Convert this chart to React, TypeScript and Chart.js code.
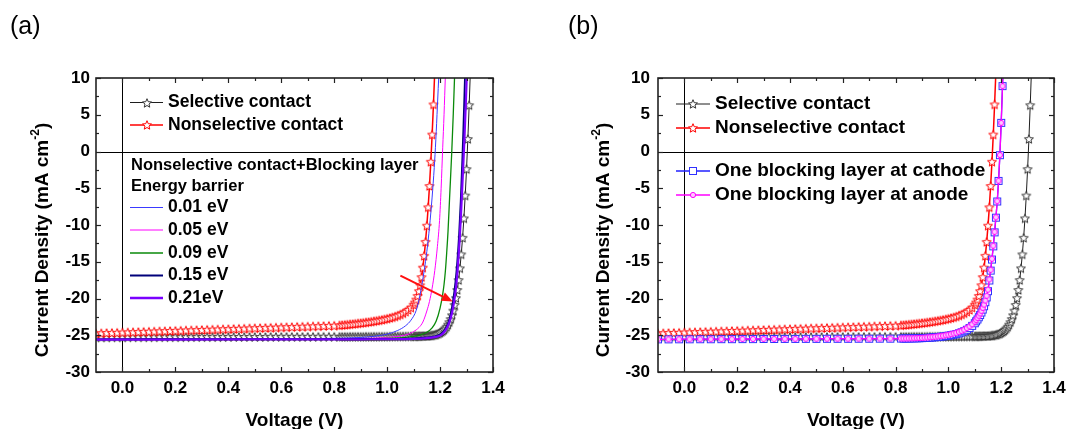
import { useEffect, useRef } from "react";
import { Chart, registerables } from "chart.js";

Chart.register(...registerables);

const FONT = "Arial, 'Liberation Sans', Helvetica, sans-serif";

// ---- axis ticks ----
const X_MAJOR = [0, 0.2, 0.4, 0.6, 0.8, 1.0, 1.2, 1.4];
const X_MINOR = [0.1, 0.3, 0.5, 0.7, 0.9, 1.1, 1.3];
const Y_MAJOR = [-30, -25, -20, -15, -10, -5, 0, 5, 10];
const Y_MINOR = [-27.5, -22.5, -17.5, -12.5, -7.5, -2.5, 2.5, 7.5];

// ---- voltage sweeps (V) ----
const V_COARSE = [
  -0.1, -0.08, -0.06, -0.04, -0.02, 0, 0.02, 0.04, 0.06, 0.08,
  0.1, 0.12, 0.14, 0.16, 0.18, 0.2, 0.22, 0.24, 0.26, 0.28,
  0.3, 0.32, 0.34, 0.36, 0.38, 0.4, 0.42, 0.44, 0.46, 0.48,
  0.5, 0.52, 0.54, 0.56, 0.58, 0.6, 0.62, 0.64, 0.66, 0.68,
  0.7, 0.72, 0.74, 0.76, 0.78, 0.8,
];
const V_SPARSE = [
  -0.1, -0.06, -0.02, 0.02, 0.06, 0.1, 0.14, 0.18, 0.22, 0.26, 0.3, 0.34,
  0.38, 0.42, 0.46, 0.5, 0.54, 0.58, 0.62, 0.66, 0.7, 0.74, 0.78,
];
const V_FINE = [
  0.82, 0.83, 0.84, 0.85, 0.86, 0.87, 0.88, 0.89, 0.9, 0.91,
  0.92, 0.93, 0.94, 0.95, 0.96, 0.97, 0.98, 0.99, 1.0, 1.01,
  1.02, 1.03, 1.04, 1.05, 1.06, 1.07, 1.08, 1.09, 1.1,
  1.105, 1.11, 1.115, 1.12, 1.125, 1.13, 1.135, 1.14, 1.145, 1.15,
  1.155, 1.16, 1.165, 1.17, 1.175, 1.18, 1.185, 1.19, 1.195, 1.2,
  1.205, 1.21, 1.215, 1.22, 1.225, 1.23, 1.235, 1.24, 1.245, 1.25,
  1.255, 1.26, 1.265, 1.27, 1.275, 1.28, 1.285, 1.29, 1.295, 1.3,
  1.305, 1.31, 1.315, 1.32,
];

// ---- current density (mA cm^-2) ----
const SELECTIVE_COARSE = [
  -25.28, -25.28, -25.28, -25.27, -25.27, -25.27, -25.27, -25.26, -25.26, -25.26,
  -25.26, -25.26, -25.25, -25.25, -25.25, -25.25, -25.25, -25.25, -25.24, -25.24,
  -25.24, -25.24, -25.24, -25.24, -25.24, -25.23, -25.23, -25.23, -25.23, -25.23,
  -25.23, -25.23, -25.23, -25.22, -25.22, -25.22, -25.22, -25.22, -25.22, -25.22,
  -25.22, -25.22, -25.21, -25.21, -25.21, -25.21,
];
const SELECTIVE_FINE = [
  -25.21, -25.21, -25.21, -25.21, -25.2, -25.2, -25.2, -25.2, -25.2, -25.2,
  -25.19, -25.19, -25.19, -25.19, -25.19, -25.18, -25.18, -25.18, -25.18, -25.17,
  -25.17, -25.17, -25.16, -25.16, -25.16, -25.15, -25.15, -25.14, -25.14,
  -25.14, -25.13, -25.13, -25.12, -25.12, -25.11, -25.11, -25.1, -25.1, -25.1,
  -25.08, -25.06, -25.04, -25.01, -24.98, -24.94, -24.89, -24.83, -24.75, -24.66,
  -24.55, -24.42, -24.26, -24.07, -23.84, -23.56, -23.22, -22.8, -22.28, -21.65,
  -20.88, -19.95, -18.84, -17.5, -15.9, -14.0, -11.75, -9.1, -6.0, -2.4,
  1.7, 6.3, 11.4,
];
const NONSELECTIVE_COARSE = [
  -24.75, -24.73, -24.7, -24.68, -24.66, -24.63, -24.61, -24.59, -24.56, -24.54,
  -24.52, -24.49, -24.47, -24.45, -24.42, -24.4, -24.38, -24.35, -24.33, -24.31,
  -24.28, -24.26, -24.24, -24.21, -24.19, -24.17, -24.14, -24.12, -24.1, -24.07,
  -24.05, -24.03, -24.0, -23.98, -23.96, -23.93, -23.91, -23.89, -23.86, -23.84,
  -23.82, -23.79, -23.77, -23.75, -23.72, -23.7,
];
const NONSELECTIVE_FINE = [
  -23.65, -23.62, -23.58, -23.55, -23.51, -23.47, -23.43, -23.39, -23.35, -23.3,
  -23.25, -23.2, -23.15, -23.09, -23.03, -22.97, -22.9, -22.83, -22.75, -22.66,
  -22.56, -22.45, -22.32, -22.18, -22.01, -21.8, -21.55, -21.25, -20.85,
  -20.55, -20.15, -19.65, -19.0, -18.2, -17.1, -15.8, -14.2, -12.3, -10.1,
  -7.6, -4.7, -1.4, 2.3, 6.4, 11.0,
];
const CATHODE_COARSE = [
  -25.56, -25.56, -25.55, -25.55, -25.54, -25.54, -25.53, -25.53, -25.52, -25.52,
  -25.51, -25.51, -25.5, -25.5, -25.49, -25.49, -25.48, -25.48, -25.48, -25.47,
  -25.47, -25.46, -25.46,
];
const CATHODE_FINE = [
  -25.45, -25.45, -25.44, -25.44, -25.43, -25.42, -25.41, -25.4, -25.39, -25.37,
  -25.35, -25.33, -25.3, -25.27, -25.24, -25.2, -25.16, -25.11, -25.05, -24.99,
  -24.92, -24.84, -24.73, -24.6, -24.44, -24.25, -24.02, -23.72, -23.36,
  -23.1, -22.85, -22.55, -22.25, -21.9, -21.5, -21.05, -20.5, -19.85, -19.0,
  -17.55, -16.2, -14.7, -12.9, -11.0, -9.0, -6.8, -4.0, -0.5, 3.9,
  8.9, 14.0,
];
const ANODE_COARSE = [
  -25.55, -25.55, -25.54, -25.54, -25.53, -25.53, -25.52, -25.52, -25.51, -25.51,
  -25.5, -25.5, -25.49, -25.49, -25.48, -25.48, -25.47, -25.47, -25.47, -25.46,
  -25.46, -25.45, -25.45,
];
const ANODE_FINE = [
  -25.44, -25.44, -25.43, -25.42, -25.41, -25.4, -25.39, -25.37, -25.35, -25.33,
  -25.3, -25.27, -25.24, -25.2, -25.16, -25.11, -25.06, -25.0, -24.93, -24.85,
  -24.76, -24.66, -24.54, -24.4, -24.23, -24.03, -23.79, -23.5, -23.15,
  -22.9, -22.64, -22.34, -22.03, -21.68, -21.28, -20.83, -20.28, -19.63, -18.8,
  -17.4, -16.1, -14.6, -12.82, -10.94, -8.95, -6.76, -3.98, -0.48, 3.9,
  8.9, 14.0,
];

// energy barrier runs, [V, J]
const BARRIER_001 = [
  [-0.1, -25.55], [0.2, -25.54], [0.5, -25.5], [0.8, -25.42], [0.9, -25.3],
  [0.95, -25.15], [1.0, -24.85], [1.04, -24.35], [1.07, -23.7], [1.09, -22.95],
  [1.11, -21.6], [1.125, -19.4], [1.14, -16.2], [1.15, -13.6], [1.16, -10.3],
  [1.17, -6.2], [1.178, -2.2], [1.184, 1.6], [1.19, 6.2], [1.196, 11.0],
];
const BARRIER_005 = [
  [-0.1, -25.55], [0.5, -25.52], [0.9, -25.45], [1.0, -25.3], [1.05, -25.1],
  [1.08, -24.85], [1.1, -24.5], [1.12, -23.95], [1.135, -23.2], [1.15, -21.7],
  [1.16, -20.4], [1.17, -18.6], [1.18, -16.2], [1.19, -12.9], [1.198, -9.4],
  [1.204, -5.0], [1.21, 0.5], [1.215, 5.0], [1.22, 10.2], [1.225, 15.0],
];
const BARRIER_009 = [
  [-0.1, -25.55], [0.5, -25.52], [0.9, -25.48], [1.05, -25.35], [1.1, -25.15],
  [1.13, -24.9], [1.15, -24.6], [1.17, -24.0], [1.185, -23.1], [1.2, -21.3],
  [1.21, -19.4], [1.215, -18.1], [1.22, -16.3], [1.225, -13.8], [1.23, -10.9],
  [1.236, -6.3], [1.244, -0.2], [1.25, 5.2], [1.255, 10.4], [1.26, 15.0],
];
const BARRIER_015 = [
  [-0.1, -25.55], [0.5, -25.52], [0.9, -25.5], [1.1, -25.42], [1.15, -25.3],
  [1.18, -25.15], [1.2, -24.9], [1.215, -24.4], [1.23, -23.4], [1.24, -22.2],
  [1.25, -20.1], [1.258, -17.8], [1.265, -15.0], [1.272, -11.2], [1.278, -6.8],
  [1.284, -1.2], [1.288, 3.0], [1.292, 7.6], [1.296, 12.5],
];
const BARRIER_021 = [
  [-0.1, -25.6], [0.5, -25.57], [0.9, -25.55], [1.1, -25.5], [1.15, -25.4],
  [1.18, -25.25], [1.2, -25.05], [1.215, -24.6], [1.23, -23.7], [1.24, -22.7],
  [1.25, -21.1], [1.26, -18.6], [1.267, -15.8], [1.274, -12.0], [1.28, -7.9],
  [1.286, -3.2], [1.292, 1.6], [1.297, 6.3], [1.301, 10.2], [1.305, 14.0],
];

// arrow in panel (a), data coordinates [V, J]
const ARROW_FROM = [1.05, -16.9];
const ARROW_TO = [1.248, -20.4];

// ---- colours ----
const BLACK = "#1e1e1e";
const RED = "#ff0000";
const BLUE = "#3a3aff";
const MAGENTA = "#ff00ff";
const GREEN = "#0a8a0a";
const NAVY = "#00007a";
const PURPLE = "#7a00ff";
const CATHODE = "#2020ff";

function toPoints(v: number[], j: number[]) {
  const n = Math.min(v.length, j.length);
  const out: { x: number; y: number }[] = [];
  for (let i = 0; i < n; i++) out.push({ x: v[i], y: j[i] });
  return out;
}
function sweep(vc: number[], jc: number[], vf: number[], jf: number[]) {
  return [...toPoints(vc, jc), ...toPoints(vf, jf)];
}
function pairs(p: number[][]) {
  return p.map(([x, y]) => ({ x, y }));
}

// ---- marker images ----
function makeStar(stroke: string, fill: string) {
  const size = 12;
  const c = document.createElement("canvas");
  c.width = size;
  c.height = size;
  const g = c.getContext("2d")!;
  const cx = size / 2, cy = size / 2 + 0.4, ro = 4.7, ri = 2.1;
  g.beginPath();
  for (let i = 0; i < 10; i++) {
    const ang = -Math.PI / 2 + (i * Math.PI) / 5;
    const r = i % 2 ? ri : ro;
    const px = cx + r * Math.cos(ang), py = cy + r * Math.sin(ang);
    if (i) g.lineTo(px, py);
    else g.moveTo(px, py);
  }
  g.closePath();
  g.fillStyle = fill;
  g.fill();
  g.lineWidth = 1;
  g.strokeStyle = stroke;
  g.stroke();
  return c;
}
function makeSquare(stroke: string, fill: string) {
  const c = document.createElement("canvas");
  c.width = 10;
  c.height = 10;
  const g = c.getContext("2d")!;
  g.fillStyle = fill;
  g.fillRect(1.5, 1.5, 7, 7);
  g.lineWidth = 1;
  g.strokeStyle = stroke;
  g.strokeRect(1.5, 1.5, 7, 7);
  return c;
}
function makeCircle(stroke: string, fill: string) {
  const c = document.createElement("canvas");
  c.width = 8;
  c.height = 8;
  const g = c.getContext("2d")!;
  g.beginPath();
  g.arc(4, 4, 2.6, 0, Math.PI * 2);
  g.fillStyle = fill;
  g.fill();
  g.lineWidth = 1;
  g.strokeStyle = stroke;
  g.stroke();
  return c;
}

function seg(ctx: CanvasRenderingContext2D, x1: number, y1: number, x2: number, y2: number) {
  ctx.beginPath();
  ctx.moveTo(x1, y1);
  ctx.lineTo(x2, y2);
  ctx.stroke();
}

function drawYTitle(ctx: CanvasRenderingContext2D, cx: number, cy: number) {
  ctx.save();
  ctx.translate(cx, cy);
  ctx.rotate(-Math.PI / 2);
  ctx.fillStyle = "#000";
  ctx.textBaseline = "middle";
  ctx.textAlign = "left";
  const big = `bold 19px ${FONT}`;
  const small = `bold 12px ${FONT}`;
  const a = "Current Density (mA cm", b = "-2", c = ")";
  ctx.font = big;
  const wa = ctx.measureText(a).width, wc = ctx.measureText(c).width;
  ctx.font = small;
  const wb = ctx.measureText(b).width;
  let x = -(wa + wb + wc) / 2;
  ctx.font = big;
  ctx.fillText(a, x, 0);
  x += wa;
  ctx.font = small;
  ctx.fillText(b, x, -7);
  x += wb;
  ctx.font = big;
  ctx.fillText(c, x, 0);
  ctx.restore();
}

function decorPlugin(d: any) {
  return {
    id: "decor",
    beforeDatasetsDraw(chart: any) {
      const { ctx, chartArea: a, scales } = chart;
      const x0 = Math.round(scales.x.getPixelForValue(0)) + 0.5;
      const y0 = Math.round(scales.y.getPixelForValue(0)) + 0.5;
      ctx.save();
      ctx.strokeStyle = "#000";
      ctx.lineWidth = 1;
      seg(ctx, x0, a.top, x0, a.bottom);
      seg(ctx, a.left, y0, a.right, y0);
      ctx.restore();
    },
    afterDatasetsDraw(chart: any) {
      const { ctx, chartArea: a, scales } = chart;
      const sx = scales.x, sy = scales.y;
      ctx.save();
      ctx.strokeStyle = "#222";
      ctx.lineWidth = 1.2;
      const xt = (v: number, len: number) => {
        const p = Math.round(sx.getPixelForValue(v)) + 0.5;
        seg(ctx, p, a.bottom, p, a.bottom - len);
        seg(ctx, p, a.top, p, a.top + len);
      };
      const yt = (v: number, len: number) => {
        const p = Math.round(sy.getPixelForValue(v)) + 0.5;
        seg(ctx, a.left, p, a.left + len, p);
        seg(ctx, a.right, p, a.right - len, p);
      };
      X_MAJOR.forEach((v) => xt(v, 5));
      X_MINOR.forEach((v) => xt(v, 3));
      Y_MAJOR.forEach((v) => yt(v, 5));
      Y_MINOR.forEach((v) => yt(v, 3));
      ctx.lineWidth = 1.6;
      ctx.strokeRect(a.left, a.top, a.right - a.left, a.bottom - a.top);

      if (d.arrow) {
        const fx = sx.getPixelForValue(ARROW_FROM[0]), fy = sy.getPixelForValue(ARROW_FROM[1]);
        const tx = sx.getPixelForValue(ARROW_TO[0]), ty = sy.getPixelForValue(ARROW_TO[1]);
        const ang = Math.atan2(ty - fy, tx - fx);
        const hl = 11, hw = 4.5;
        const bx = tx - hl * Math.cos(ang), by = ty - hl * Math.sin(ang);
        ctx.strokeStyle = "#ff1010";
        ctx.fillStyle = "#ff1010";
        ctx.lineWidth = 2;
        seg(ctx, fx, fy, bx, by);
        ctx.beginPath();
        ctx.moveTo(tx, ty);
        ctx.lineTo(bx + hw * Math.sin(ang), by - hw * Math.cos(ang));
        ctx.lineTo(bx - hw * Math.sin(ang), by + hw * Math.cos(ang));
        ctx.closePath();
        ctx.fill();
      }
      ctx.restore();
    },
    afterDraw(chart: any) {
      const { ctx, chartArea: a } = chart;
      ctx.save();
      ctx.fillStyle = "#000";
      // panel tag
      ctx.font = `25px ${FONT}`;
      ctx.textAlign = "left";
      ctx.textBaseline = "middle";
      ctx.fillText(d.tag, d.tagX, 27);
      // axis titles
      drawYTitle(ctx, d.yTitleX, 240);
      ctx.font = `bold 19px ${FONT}`;
      ctx.textAlign = "center";
      ctx.textBaseline = "middle";
      ctx.fillText("Voltage (V)", (a.left + a.right) / 2, 421);
      // legend
      const L = d.legend;
      ctx.textAlign = "left";
      for (const row of L.rows) {
        if (row.note) {
          ctx.font = `bold ${L.noteSize}px ${FONT}`;
          ctx.fillStyle = "#000";
          ctx.fillText(row.label, L.noteX, row.y);
          continue;
        }
        ctx.strokeStyle = row.color;
        ctx.lineWidth = row.width;
        seg(ctx, L.lineX0, row.y, L.lineX1, row.y);
        if (row.marker) {
          const m = row.marker;
          const mx = (L.lineX0 + L.lineX1) / 2;
          ctx.drawImage(m, Math.round(mx - m.width / 2), Math.round(row.y - m.height / 2));
        }
        ctx.font = `bold ${L.size}px ${FONT}`;
        ctx.fillStyle = "#000";
        ctx.fillText(row.label, L.textX, row.y);
      }
      ctx.restore();
    },
  };
}

function buildConfig(layout: any, datasets: any[], plugin: any) {
  const tickFont = { family: FONT, size: 17, weight: "bold" as const };
  return {
    type: "scatter" as const,
    data: { datasets },
    options: {
      responsive: false,
      animation: false as const,
      events: [],
      layout: { padding: { left: 0, right: layout.padRight, top: 78, bottom: 0 } },
      plugins: { legend: { display: false }, tooltip: { enabled: false } },
      scales: {
        x: {
          type: "linear" as const,
          position: "bottom" as const,
          min: -0.1,
          max: 1.4,
          grid: { display: false, drawTicks: false },
          border: { display: false },
          afterBuildTicks: (s: any) => {
            s.ticks = X_MAJOR.map((value) => ({ value }));
          },
          afterFit: (s: any) => {
            s.height = 57;
            s.paddingLeft = 0;
            s.paddingRight = 0;
          },
          ticks: {
            color: "#000",
            font: tickFont,
            padding: 6,
            maxRotation: 0,
            autoSkip: false,
            callback: (v: any) => Number(v).toFixed(1),
          },
        },
        y: {
          type: "linear" as const,
          position: "left" as const,
          min: -30,
          max: 10,
          grid: { display: false, drawTicks: false },
          border: { display: false },
          afterBuildTicks: (s: any) => {
            s.ticks = Y_MAJOR.map((value) => ({ value }));
          },
          afterFit: (s: any) => {
            s.width = layout.axisWidth;
            s.paddingTop = 0;
            s.paddingBottom = 0;
          },
          ticks: {
            color: "#000",
            font: tickFont,
            padding: layout.yPad,
            autoSkip: false,
            callback: (v: any) => String(v),
          },
        },
      },
    },
    plugins: [plugin],
  };
}

function lineSet(p: number[][], color: string, width: number, order: number) {
  return {
    data: pairs(p),
    showLine: true,
    borderColor: color,
    borderWidth: width,
    pointRadius: 0,
    cubicInterpolationMode: "monotone",
    order,
    clip: 0,
  };
}
function markerSet(data: any[], color: string, width: number, marker: HTMLCanvasElement, order: number) {
  return {
    data,
    showLine: true,
    borderColor: color,
    borderWidth: width,
    pointStyle: marker,
    pointRadius: 4.5,
    tension: 0,
    order,
    clip: 0,
  };
}

export default function App() {
  const refA = useRef<HTMLCanvasElement>(null);
  const refB = useRef<HTMLCanvasElement>(null);

  useEffect(() => {
    const starBlack = makeStar("#333333", "#ffffff");
    const starRed = makeStar("#ff0000", "#ffffff");
    const square = makeSquare("#3030ff", "#ffffff");
    const circle = makeCircle("#ff00ff", "#ffc8ff");

    const selective = sweep(V_COARSE, SELECTIVE_COARSE, V_FINE, SELECTIVE_FINE);
    const nonselective = sweep(V_COARSE, NONSELECTIVE_COARSE, V_FINE, NONSELECTIVE_FINE);
    const cathode = sweep(V_SPARSE, CATHODE_COARSE, V_FINE, CATHODE_FINE);
    const anode = sweep(V_SPARSE, ANODE_COARSE, V_FINE, ANODE_FINE);

    const datasetsA = [
      lineSet(BARRIER_021, PURPLE, 2.2, 1),
      lineSet(BARRIER_015, NAVY, 1.8, 2),
      lineSet(BARRIER_009, GREEN, 1.3, 3),
      lineSet(BARRIER_005, MAGENTA, 1, 4),
      lineSet(BARRIER_001, BLUE, 1, 5),
      markerSet(nonselective, RED, 1.5, starRed, 6),
      markerSet(selective, BLACK, 1, starBlack, 7),
    ];
    const datasetsB = [
      markerSet(anode, MAGENTA, 1.3, circle, 1),
      markerSet(cathode, CATHODE, 1.3, square, 2),
      markerSet(nonselective, RED, 1.5, starRed, 3),
      markerSet(selective, BLACK, 1, starBlack, 4),
    ];

    const decorA = decorPlugin({
      tag: "(a)",
      tagX: 10,
      yTitleX: 43,
      arrow: true,
      legend: {
        lineX0: 130,
        lineX1: 163,
        textX: 168,
        noteX: 131,
        size: 17.5,
        noteSize: 16.5,
        rows: [
          { y: 102.5, label: "Selective contact", color: BLACK, width: 1, marker: starBlack },
          { y: 125, label: "Nonselective contact", color: RED, width: 1.6, marker: starRed },
          { y: 165, label: "Nonselective contact+Blocking layer", note: true },
          { y: 186, label: "Energy barrier", note: true },
          { y: 207.5, label: "0.01 eV", color: BLUE, width: 1 },
          { y: 230, label: "0.05 eV", color: MAGENTA, width: 1 },
          { y: 253, label: "0.09 eV", color: GREEN, width: 1.5 },
          { y: 275.5, label: "0.15 eV", color: NAVY, width: 2 },
          { y: 298, label: "0.21eV", color: PURPLE, width: 2.5 },
        ],
      },
    });
    const decorB = decorPlugin({
      tag: "(b)",
      tagX: 34,
      yTitleX: 70,
      arrow: false,
      legend: {
        lineX0: 142,
        lineX1: 176,
        textX: 181,
        noteX: 142,
        size: 19,
        noteSize: 19,
        rows: [
          { y: 104, label: "Selective contact", color: BLACK, width: 1, marker: starBlack },
          { y: 128, label: "Nonselective contact", color: RED, width: 1.6, marker: starRed },
          { y: 171, label: "One blocking layer at cathode", color: CATHODE, width: 1.6, marker: square },
          { y: 195, label: "One blocking layer at anode", color: MAGENTA, width: 1.6, marker: circle },
        ],
      },
    });

    const chartA = new Chart(
      refA.current!,
      buildConfig({ padRight: 41, axisWidth: 96, yPad: 6 }, datasetsA, decorA) as any
    );
    const chartB = new Chart(
      refB.current!,
      buildConfig({ padRight: 14, axisWidth: 124, yPad: 8 }, datasetsB, decorB) as any
    );
    return () => {
      chartA.destroy();
      chartB.destroy();
    };
  }, []);

  return (
    <div style={{ position: "absolute", left: 0, top: 0, width: 1068, height: 429, background: "#fff" }}>
      <canvas
        ref={refA}
        width={534}
        height={429}
        style={{ position: "absolute", left: 0, top: 0, width: 534, height: 429 }}
      />
      <canvas
        ref={refB}
        width={534}
        height={429}
        style={{ position: "absolute", left: 534, top: 0, width: 534, height: 429 }}
      />
    </div>
  );
}
